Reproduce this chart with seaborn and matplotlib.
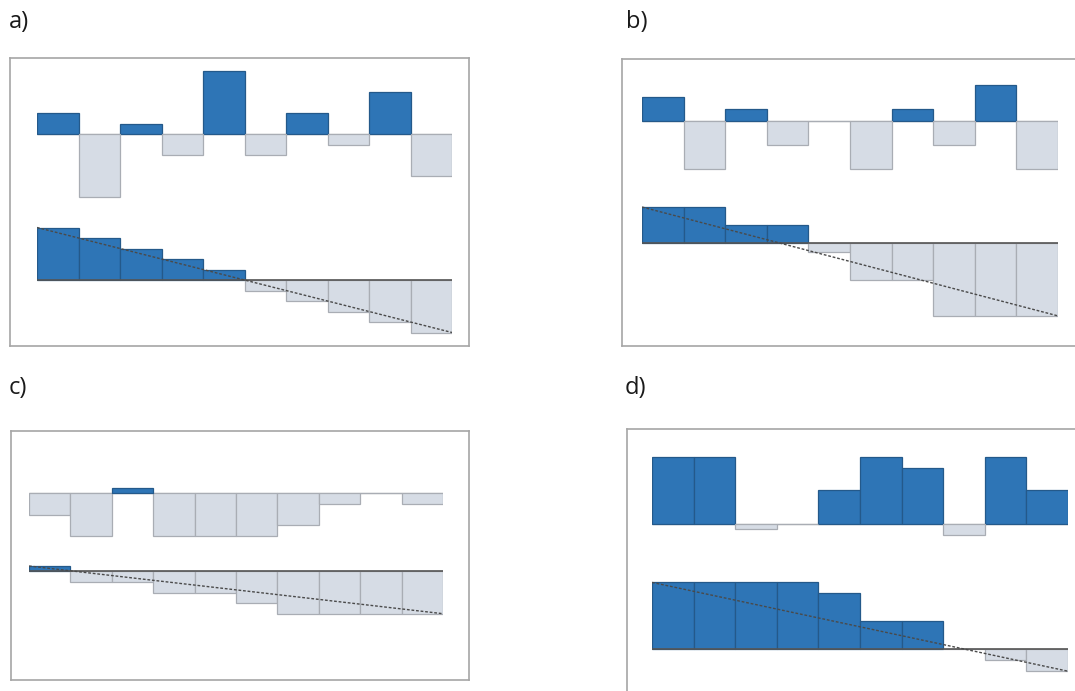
import matplotlib
matplotlib.use("Agg")
import matplotlib.pyplot as plt
import seaborn as sns
import numpy as np

sns.set_theme(style="white")
plt.rcParams['font.family'] = ['Open Sans', 'DejaVu Sans']

W, H = 1075, 691

# values per panel: raw bars (top) and sorted bars (bottom)
panel_labels = ["a)", "b)", "c)", "d)"]
a_top = [2, -6, 1, -2, 6, -2, 2, -1, 4, -4]
a_bottom = [5, 4, 3, 2, 1, -1, -2, -3, -4, -5]
b_top = [2, -4, 1, -2, 0, -4, 1, -2, 3, -4]
b_bottom = [3, 3, 1.5, 1.5, -0.7, -3, -3, -6, -6, -6]
c_top = [-2, -4, 0.5, -4, -4, -4, -3, -1, 0, -1]
c_bottom = [0.5, -1, -1, -2, -2, -3, -4, -4, -4, -4]
d_top = [6, 6, -0.5, 0, 3, 6, 5, -1, 6, 3]
d_bottom = [6, 6, 6, 6, 5, 2.5, 2.5, 0, -1, -2]

blue = "#2e75b6"
blue_edge = "#24598a"
grey = "#d6dce5"
grey_edge = "#a9adb4"

fig = plt.figure(figsize=(W / 100, H / 100), dpi=100)


def px_axes(x0, y0, x1, y1):
    return fig.add_axes([x0 / W, 1 - y1 / H, (x1 - x0) / W, (y1 - y0) / H])


def draw_bars(values, x0, x1, base, unit, sorted_chart):
    span = 130
    ax = px_axes(x0, base - span, x1, base + span)
    ax.patch.set_alpha(0)
    cats = [str(i) for i in range(len(values))]
    sign = ["pos" if v > 0 else "neg" for v in values]
    sns.barplot(x=cats, y=values, hue=sign, palette={"pos": blue, "neg": grey},
                width=1.0, dodge=False, legend=False, errorbar=None,
                saturation=1, ax=ax)
    for p in ax.patches:
        h = p.get_height()
        p.set_edgecolor(blue_edge if h > 0 else grey_edge)
        p.set_linewidth(0.9)
    n = len(values)
    ax.set_xlim(-0.5, n - 0.5)
    ax.set_ylim(-span / unit, span / unit)
    if sorted_chart:
        ax.axhline(0, color="#555555", lw=1.2, zorder=3)
        ax.plot([-0.5, n - 0.5], [values[0], values[-1]], color="#4a4a4a",
                lw=1.0, dashes=(2, 1.3), zorder=4)
    else:
        ax.axhline(0, color="#c4c4c4", lw=1.0, zorder=0.5)
    ax.axis("off")
    return ax


def frame(x0, y0, x1, y1):
    ax = px_axes(x0, y0, x1, y1)
    ax.set_xticks([])
    ax.set_yticks([])
    for s in ax.spines.values():
        s.set_color("#a6a6a6")
        s.set_linewidth(1.2)
    ax.patch.set_alpha(0)
    return ax


frame(10, 58, 469, 346)
frame(622, 59, 1090, 346)
frame(11, 431, 469, 680)
frame(627, 429, 1090, 705)

draw_bars(a_top, 37, 452, 134, 10.5, False)
draw_bars(a_bottom, 37, 452, 280, 10.5, True)
draw_bars(b_top, 642, 1058, 121, 12.1, False)
draw_bars(b_bottom, 642, 1058, 243.3, 12.1, True)
draw_bars(c_top, 29, 443, 493.3, 10.6, False)
draw_bars(c_bottom, 29, 443, 571.3, 10.6, True)
draw_bars(d_top, 652, 1068, 523.7, 11.1, False)
draw_bars(d_bottom, 652, 1068, 649, 11.1, True)

label_pos = [(9, 22), (626, 22), (9, 388), (625, 388)]
for lab, (x, y) in zip(panel_labels, label_pos):
    fig.text(x / W, 1 - y / H, lab, fontsize=17, ha="left", va="center",
             color="#1a1a1a")

plt.savefig("out.png", dpi=100)
